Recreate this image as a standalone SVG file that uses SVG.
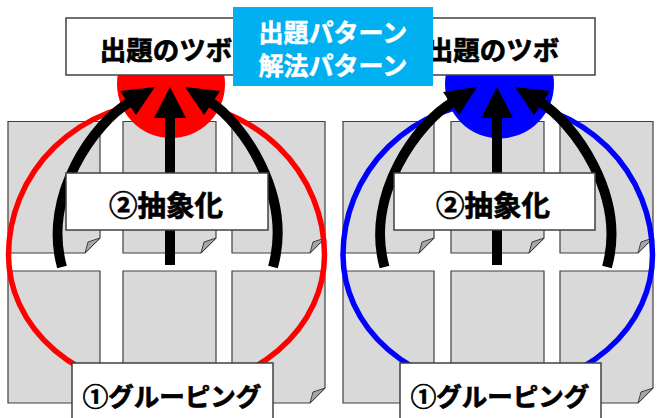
<svg xmlns="http://www.w3.org/2000/svg" width="657" height="418" viewBox="0 0 657 418">
<style>
.pg{fill:#D9D9D9;stroke:#404040;stroke-width:1.2}
.fold{fill:#A6A6A6;stroke:#404040;stroke-width:1}
.box{fill:#FFFFFF;stroke:#404040;stroke-width:1.5}
.shaft{fill:none;stroke:#000;stroke-width:10}
.head{fill:#000}
.t{font-family:"Noto Sans CJK JP","Noto Sans CJK SC",sans-serif;font-weight:bold;text-anchor:middle;fill:#000;stroke:#000;stroke-width:0.7}
.tw{font-family:"Noto Sans CJK JP","Noto Sans CJK SC",sans-serif;font-weight:bold;text-anchor:middle;fill:#FFFFFF;stroke:#FFFFFF;stroke-width:0.5}
</style>
<rect x="0" y="0" width="657" height="418" fill="#FFFFFF"/>
<g id="pages-left">
<path class="pg" d="M8 121.5H100V238L85 253H8Z"/><path class="fold" d="M100 238L88 242L85 253Z"/>
<path class="pg" d="M123 121.5H216V238L201 253H123Z"/><path class="fold" d="M216 238L204 242L201 253Z"/>
<path class="pg" d="M232 121.5H325V238L310 253H232Z"/><path class="fold" d="M325 238L313 242L310 253Z"/>
<path class="pg" d="M8 271H100V388L85 403H8Z"/><path class="fold" d="M100 388L88 392L85 403Z"/>
<path class="pg" d="M123 271H216V388L201 403H123Z"/><path class="fold" d="M216 388L204 392L201 403Z"/>
<path class="pg" d="M232 271H325V388L310 403H232Z"/><path class="fold" d="M325 388L313 392L310 403Z"/>
</g>
<g id="pages-right">
<path class="pg" d="M343 121.5H434V238L419 253H343Z"/><path class="fold" d="M434 238L422 242L419 253Z"/>
<path class="pg" d="M451 121.5H544V238L529 253H451Z"/><path class="fold" d="M544 238L532 242L529 253Z"/>
<path class="pg" d="M560 121.5H653V238L638 253H560Z"/><path class="fold" d="M653 238L641 242L638 253Z"/>
<path class="pg" d="M343 271H434V388L419 403H343Z"/><path class="fold" d="M434 388L422 392L419 403Z"/>
<path class="pg" d="M451 271H544V388L529 403H451Z"/><path class="fold" d="M544 388L532 392L529 403Z"/>
<path class="pg" d="M560 271H653V388L638 403H560Z"/><path class="fold" d="M653 388L641 392L638 403Z"/>
</g>
<g id="ring-left"><path d="M8.5 255A158 153 0 0 1 324.5 255A158 135 0 0 1 8.5 255Z" fill="none" stroke="#FF0000" stroke-width="5.5"/></g>
<g id="ring-right"><path d="M343 255A154.75 153 0 0 1 652.5 255A154.75 134 0 0 1 343 255Z" fill="none" stroke="#0000FF" stroke-width="5.5"/></g>
<g id="hub-left"><circle cx="171" cy="84" r="54" fill="#FF0000"/></g>
<g id="hub-right"><circle cx="499.5" cy="84" r="54.5" fill="#0000FF"/></g>
<g id="tsubo-left"><rect class="box" x="66" y="18" width="199" height="57"/><text class="t" x="166" y="60" font-size="26.5">出題のツボ</text></g>
<g id="tsubo-right"><rect class="box" x="395" y="18" width="200" height="57"/><text class="t" x="493" y="60" font-size="26.5">出題のツボ</text></g>
<g id="connectors">
<rect x="165" y="115" width="10" height="150" fill="#000"/>
<path class="head" d="M170 87L154 118H186Z"/>
<path class="shaft" d="M62 267C42 195 95 122 130 102"/>
<path class="head" d="M155 87L120 91L136 115Z"/>
<path class="shaft" d="M273 267C293 195 242 122 210 102"/>
<path class="head" d="M185 87L220 91L204 115Z"/>
<rect x="492" y="115" width="10" height="150" fill="#000"/>
<path class="head" d="M497 87L481 118H513Z"/>
<path class="shaft" d="M384.5 267C364.5 195 418 122 453 102"/>
<path class="head" d="M477 87L443 92L459 115Z"/>
<path class="shaft" d="M607 267C627 195 573 122 540 102"/>
<path class="head" d="M515 87L550 91L534 115Z"/>
</g>
<g id="abstract-left"><rect class="box" x="66" y="173" width="202" height="57"/><text class="t" x="166" y="215.5" font-size="28.5">②抽象化</text></g>
<g id="abstract-right"><rect class="box" x="394" y="173" width="201" height="57"/><text class="t" x="493" y="215.5" font-size="28.5">②抽象化</text></g>
<g id="group-left"><rect class="box" x="72" y="363" width="201" height="60"/><text class="t" x="172" y="405.5" font-size="25.5">①グルーピング</text></g>
<g id="group-right"><rect class="box" x="400" y="363" width="201" height="60"/><text class="t" x="500" y="405.5" font-size="25.5">①グルーピング</text></g>
<g id="pattern-label"><rect x="233" y="7" width="200" height="79" fill="#00B0F0"/><text class="tw" x="333" y="41.5" font-size="25">出題パターン</text><text class="tw" x="333" y="74.5" font-size="25">解法パターン</text></g>
</svg>
